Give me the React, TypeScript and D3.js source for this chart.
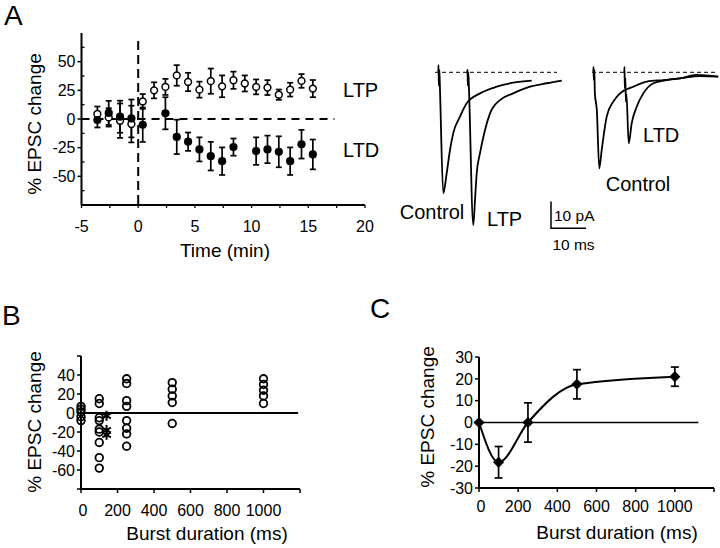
import React from 'react';
import * as d3 from 'd3';

const FONT = '"Liberation Sans", Arial, Helvetica, sans-serif';

// ---- panel A: time course (% EPSC change) ----
const ltpTime = [-3.6, -2.6, -1.6, -0.6, 0.4, 1.4, 2.4, 3.4, 4.4, 5.4, 6.4, 7.4, 8.4, 9.4, 10.4, 11.4, 12.4, 13.4, 14.4, 15.4];
const ltpValue = [4.4, 1.4, -1.5, -4.4, 15.3, 25, 28, 38, 32.3, 25.6, 33, 28.5, 33.8, 31, 28, 27.4, 21.2, 25.6, 33.2, 26.5];
const ltpErr = [6.5, 8, 15, 16, 6.5, 7, 7, 9, 8, 7, 11, 9.5, 7.5, 7, 6.5, 6.5, 4.5, 6, 6, 7.5];

const ltdTime = [-3.6, -2.6, -1.6, -0.6, 0.4, 2.4, 3.4, 4.4, 5.4, 6.4, 7.4, 8.4, 10.4, 11.4, 12.4, 13.4, 14.4, 15.4];
const ltdValue = [-0.9, 5.3, 2, 0.5, -5, 5, -15.6, -19.8, -26.5, -32.4, -36.8, -24.5, -28, -26.5, -28.6, -36.8, -22, -30.9];
const ltdErr = [6.5, 10.5, 14, 16.5, 15, 14, 15, 8, 10.5, 12.5, 12, 7.5, 12, 12, 13.5, 12, 12.5, 13];

const timeTicks = [-5, 0, 5, 10, 15, 20];
const pctTicksA = [-50, -25, 0, 25, 50];

// ---- panel A: example traces, [ms, pA] ----
const controlTraceL: [number, number][] = [[0, 0], [0.05, 2.7], [0.15, -5], [0.3, 1], [0.45, -5], [1.43, -45.3], [2.4, -37.8], [3.34, -29.1], [4.29, -22.7], [6.2, -16.6], [8.1, -11.6], [11.9, -7.9], [16.7, -5.4], [21.4, -3.9], [26.7, -3.1]];
const ltpTrace: [number, number][] = [[0, 0], [0.05, 1], [0.15, -5], [0.3, 0], [0.45, -5], [1.71, -57.2], [2.2, -47.8], [2.69, -37.8], [3.63, -30.3], [5.06, -21.6], [6.49, -15.4], [9.34, -10.4], [13.1, -7.9], [17.9, -5.4], [22.7, -4.1], [27, -3.1]];
const controlTraceR: [number, number][] = [[0, 0], [0.05, 2], [0.15, -3], [0.3, 1], [0.45, -8], [1.0, -14], [1.71, -36], [2.4, -29.1], [3.83, -16.6], [5.71, -11], [7.63, -7.9], [11.4, -5.4], [15.3, -3.5], [20, -2.9], [24.8, -2.3], [29.5, -1], [35.7, -1.6]];
const ltdTrace: [number, number][] = [[0, 0], [0.05, 2], [0.15, -6], [0.3, -2], [0.45, -11], [0.6, -8], [1.26, -26.6], [2.11, -19.1], [3.54, -12.9], [5.43, -7.9], [8.29, -4.1], [12.1, -2.9], [15.9, -2.3], [21.6, -1.4], [26.8, -1.6]];

// ---- panel B: individual cells ----
const burstGroups = [0, 100, 250, 500, 1000];
const burstValues = [
  [7, 4, 1, -4, -8],
  [15, 10, -5, -8, -17, -20, -31, -47, -58],
  [36, 31, 13, 7, -8, -16, -22, -35],
  [32, 25, 18, 11, -11],
  [36, 30, 24, 18, 10],
];
const starBurst = 140;
const starValues = [-3, -18, -23];
const pctTicksB = [-60, -40, -20, 0, 20, 40];
const burstTicks = [0, 200, 400, 600, 800, 1000];

// ---- panel C: mean ----
const meanBurst = [0, 100, 250, 500, 1000];
const meanValue = [0, -18.2, 0, 17.5, 21];
const meanErr = [0, 7.2, 9, 6.7, 4.4];
const pctTicksC = [-30, -20, -10, 0, 10, 20, 30];

const K = '#000';

function YTitle({ x, y, size = 19 }: { x: number; y: number; size?: number }) {
  return (
    <text transform={`translate(${x},${y}) rotate(-90)`} textAnchor="middle" dominantBaseline="central" fontSize={size} fontFamily={FONT}>
      % EPSC change
    </text>
  );
}

function PanelA() {
  const x = d3.scaleLinear().domain([-5, 20]).range([81.5, 365]);
  const y = d3.scaleLinear().domain([-75, 75]).range([205, 33]);
  const x0 = x(-5);
  const yb = y(-75);
  const minor = d3.range(-62.5, 75, 25);
  const xt = d3.range(-5, 20.01, 2.5);
  const ltp = ltpTime.map((t, i) => ({ t, v: ltpValue[i], e: ltpErr[i] }));
  const ltd = ltdTime.map((t, i) => ({ t, v: ltdValue[i], e: ltdErr[i] }));
  const bars = (pts: { t: number; v: number; e: number }[]) =>
    pts.map((p, i) => (
      <g key={i} stroke={K} strokeWidth={1.7}>
        <line x1={x(p.t)} x2={x(p.t)} y1={y(p.v - p.e)} y2={y(p.v + p.e)} />
        <line x1={x(p.t) - 3} x2={x(p.t) + 3} y1={y(p.v - p.e)} y2={y(p.v - p.e)} />
        <line x1={x(p.t) - 3} x2={x(p.t) + 3} y1={y(p.v + p.e)} y2={y(p.v + p.e)} />
      </g>
    ));
  return (
    <g>
      <text x={4} y={25} fontSize={28} fontFamily={FONT}>A</text>
      {/* dashed reference lines */}
      <line x1={x(0)} x2={x(0)} y1={y(68)} y2={yb} stroke={K} strokeWidth={2} strokeDasharray="9,5" />
      <line x1={x0} x2={x(17.3)} y1={y(0)} y2={y(0)} stroke={K} strokeWidth={2} strokeDasharray="8,6" />
      {/* axes */}
      <line x1={x0} x2={x0} y1={y(75)} y2={yb} stroke={K} strokeWidth={2} />
      <line x1={x0} x2={x(20)} y1={yb} y2={yb} stroke={K} strokeWidth={2} />
      {pctTicksA.map((v) => (
        <g key={v}>
          <line x1={x0 - 4} x2={x0} y1={y(v)} y2={y(v)} stroke={K} strokeWidth={1.5} />
          <text x={x0 - 6} y={y(v)} dy="0.36em" textAnchor="end" fontSize={16} fontFamily={FONT}>{v}</text>
        </g>
      ))}
      {minor.map((v) => (
        <line key={v} x1={x0} x2={x0 + 3} y1={y(v)} y2={y(v)} stroke={K} strokeWidth={1.3} />
      ))}
      {xt.map((t) => (
        <line key={t} x1={x(t)} x2={x(t)} y1={yb} y2={yb + 3} stroke={K} strokeWidth={1.3} />
      ))}
      {timeTicks.map((t) => (
        <text key={t} x={x(t)} y={232} textAnchor="middle" fontSize={16} fontFamily={FONT}>{t}</text>
      ))}
      <text x={225} y={257} textAnchor="middle" fontSize={19} fontFamily={FONT}>Time (min)</text>
      <YTitle x={34} y={124} />
      {bars(ltp)}
      {bars(ltd)}
      {ltp.map((p, i) => (
        <circle key={i} cx={x(p.t)} cy={y(p.v)} r={3.4} fill="#fff" stroke={K} strokeWidth={1.5} />
      ))}
      {ltd.map((p, i) => (
        <circle key={i} cx={x(p.t)} cy={y(p.v)} r={4.1} fill={K} />
      ))}
      <text x={343} y={97} fontSize={20} fontFamily={FONT}>LTP</text>
      <text x={343} y={157} fontSize={20} fontFamily={FONT}>LTD</text>
    </g>
  );
}

function Traces() {
  const ms = d3.scaleLinear().domain([0, 10]).range([0, 35]);
  const pa = d3.scaleLinear().domain([0, 10]).range([0, 26.7]);
  const base = 72.3;
  const path = (data: [number, number][], ox: number) =>
    d3.line<[number, number]>()
      .x((d) => ox + ms(d[0]))
      .y((d) => base - pa(d[1]))
      .curve(d3.curveMonotoneX)(data) || '';
  const traces: { data: [number, number][]; ox: number }[] = [
    { data: controlTraceL, ox: 438.3 },
    { data: ltpTrace, ox: 467.3 },
    { data: controlTraceR, ox: 593.3 },
    { data: ltdTrace, ox: 624.3 },
  ];
  const sbx = 551;
  const sby = 228.3;
  return (
    <g>
      <line x1={435} x2={557} y1={base} y2={base} stroke={K} strokeWidth={1} strokeDasharray="4,3" />
      <line x1={592} x2={717} y1={base} y2={base} stroke={K} strokeWidth={1} strokeDasharray="4,3" />
      {traces.map((t, i) => (
        <path key={i} d={path(t.data, t.ox)} fill="none" stroke={K} strokeWidth={1.8} strokeLinejoin="round" />
      ))}
      <path d={`M${sbx},${sby - pa(10)}V${sby}H${sbx + ms(10)}`} fill="none" stroke={K} strokeWidth={1.5} />
      <text x={sbx + 3} y={sby - 7} fontSize={15.5} fontFamily={FONT}>10 pA</text>
      <text x={sbx + ms(10) / 2 + 5} y={250} textAnchor="middle" fontSize={15.5} fontFamily={FONT}>10 ms</text>
      <text x={432} y={219} textAnchor="middle" fontSize={20} fontFamily={FONT}>Control</text>
      <text x={487} y={226} fontSize={20} fontFamily={FONT}>LTP</text>
      <text x={643} y={142} fontSize={20} fontFamily={FONT}>LTD</text>
      <text x={638} y={191} textAnchor="middle" fontSize={20} fontFamily={FONT}>Control</text>
    </g>
  );
}

function PanelB() {
  const x = d3.scaleLinear().domain([0, 1200]).range([81, 300]);
  const y = d3.scaleLinear().domain([-80, 60]).range([489, 356]);
  const x0 = x(0);
  const yb = y(-80);
  const star = d3.symbol(d3.symbolAsterisk, 70)() || '';
  return (
    <g>
      <text x={2} y={325} fontSize={28} fontFamily={FONT}>B</text>
      <line x1={x0} x2={x0} y1={y(60)} y2={yb} stroke={K} strokeWidth={2} />
      <line x1={x0} x2={x(1200)} y1={yb} y2={yb} stroke={K} strokeWidth={2} />
      {d3.range(-80, 61, 20).map((v) => (
        <line key={v} x1={x0 - 4} x2={x0} y1={y(v)} y2={y(v)} stroke={K} strokeWidth={1.5} />
      ))}
      {pctTicksB.map((v) => (
        <text key={v} x={x0 - 6} y={y(v)} dy="0.36em" textAnchor="end" fontSize={16} fontFamily={FONT}>{v}</text>
      ))}
      {d3.range(0, 1201, 200).map((t) => (
        <line key={t} x1={x(t)} x2={x(t)} y1={yb} y2={yb + 4} stroke={K} strokeWidth={1.5} />
      ))}
      {burstTicks.map((t) => (
        <text key={t} x={x(t) + (t === 0 ? 2 : 0)} y={516} textAnchor="middle" fontSize={16} fontFamily={FONT}>{t}</text>
      ))}
      <text x={207} y={540} textAnchor="middle" fontSize={19} fontFamily={FONT}>Burst duration (ms)</text>
      <YTitle x={34} y={422} />
      <line x1={x0} x2={x(1190)} y1={y(0)} y2={y(0)} stroke={K} strokeWidth={2} />
      {burstGroups.map((g, gi) =>
        burstValues[gi].map((v, i) => (
          <circle key={`${gi}-${i}`} cx={x(g)} cy={y(v)} r={3.8} fill="none" stroke={K} strokeWidth={1.8} />
        ))
      )}
      {starValues.map((v, i) => (
        <path key={i} d={star} transform={`translate(${x(starBurst)},${y(v)})`} fill="none" stroke={K} strokeWidth={2} />
      ))}
    </g>
  );
}

function PanelC() {
  const x = d3.scaleLinear().domain([0, 1200]).range([479, 714]);
  const y = d3.scaleLinear().domain([-30, 30]).range([488, 357]);
  const x0 = x(0);
  const yb = y(-30);
  const pts = meanBurst.map((b, i) => ({ b, v: meanValue[i], e: meanErr[i] }));
  const line = d3.line<{ b: number; v: number }>().x((d) => x(d.b)).y((d) => y(d.v)).curve(d3.curveMonotoneX);
  const diamond = d3.symbol(d3.symbolSquare, 62)() || '';
  return (
    <g>
      <text x={370} y={318} fontSize={28} fontFamily={FONT}>C</text>
      <line x1={x0} x2={x0} y1={y(30)} y2={yb} stroke={K} strokeWidth={2} />
      <line x1={x0} x2={x(1200)} y1={yb} y2={yb} stroke={K} strokeWidth={2} />
      {pctTicksC.map((v) => (
        <g key={v}>
          <line x1={x0 - 4} x2={x0} y1={y(v)} y2={y(v)} stroke={K} strokeWidth={1.5} />
          <text x={x0 - 6} y={y(v)} dy="0.36em" textAnchor="end" fontSize={16} fontFamily={FONT}>{v}</text>
        </g>
      ))}
      {d3.range(0, 1201, 200).map((t) => (
        <line key={t} x1={x(t)} x2={x(t)} y1={yb} y2={yb + 4} stroke={K} strokeWidth={1.5} />
      ))}
      {burstTicks.map((t) => (
        <text key={t} x={x(t) + (t === 0 ? 2 : 0)} y={512} textAnchor="middle" fontSize={16} fontFamily={FONT}>{t}</text>
      ))}
      <text x={617} y={539} textAnchor="middle" fontSize={19} fontFamily={FONT}>Burst duration (ms)</text>
      <YTitle x={427} y={417} />
      <line x1={x0} x2={x(1120)} y1={y(0)} y2={y(0)} stroke={K} strokeWidth={1.6} />
      <path d={line(pts) || ''} fill="none" stroke={K} strokeWidth={2} />
      {pts.filter((p) => p.e > 0).map((p, i) => (
        <g key={i} stroke={K} strokeWidth={1.7}>
          <line x1={x(p.b)} x2={x(p.b)} y1={y(p.v - p.e)} y2={y(p.v + p.e)} />
          <line x1={x(p.b) - 4} x2={x(p.b) + 4} y1={y(p.v - p.e)} y2={y(p.v - p.e)} />
          <line x1={x(p.b) - 4} x2={x(p.b) + 4} y1={y(p.v + p.e)} y2={y(p.v + p.e)} />
        </g>
      ))}
      {pts.map((p, i) => (
        <path key={i} d={diamond} transform={`translate(${x(p.b)},${y(p.v)}) rotate(45)`} fill={K} />
      ))}
    </g>
  );
}

export default function App() {
  return (
    <div style={{ position: 'absolute', left: 0, top: 0 }}>
      <svg width={720} height={548} style={{ display: 'block', background: '#fff' }}>
        <PanelA />
        <Traces />
        <PanelB />
        <PanelC />
      </svg>
    </div>
  );
}
